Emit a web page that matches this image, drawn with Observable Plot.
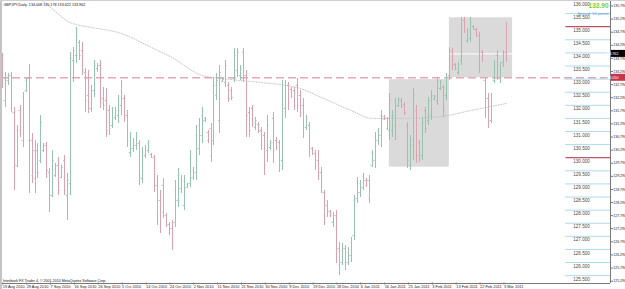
<!DOCTYPE html>
<html><head><meta charset="utf-8">
<script src="https://cdn.jsdelivr.net/npm/d3@7"></script>
<script src="https://cdn.jsdelivr.net/npm/@observablehq/plot@0.6"></script>
<style>
body{margin:0;background:#fff;}
#wrap{position:relative;width:625px;height:289px;overflow:hidden;background:#fff;}
#wrap svg{display:block;font-family:"Liberation Sans",Arial,sans-serif;}
#lb{position:absolute;left:0;top:0;width:2px;height:289px;background:#c4c4c4;}
#tb{position:absolute;left:0;top:0;width:625px;height:1px;background:#cfcfcf;}
</style></head><body><div id="wrap"></div>
<script>
const opens=[133.79,132.18,132.95,133.14,131.72,129.70,131.80,130.66,132.56,133.02,
130.66,130.27,130.27,129.89,130.27,130.47,129.43,128.56,129.32,129.70,
129.24,129.89,128.56,129.01,133.71,133.90,134.40,134.09,133.25,132.37,
131.88,132.56,133.40,133.52,132.26,132.18,131.80,131.23,131.53,131.61,
131.99,132.26,131.61,130.20,130.35,130.47,130.54,129.21,130.08,130.27,
130.12,130.01,128.94,128.37,128.94,127.79,127.45,127.30,127.53,128.37,
128.82,128.18,128.86,129.01,129.24,129.43,130.35,130.85,131.42,130.96,
131.11,130.66,132.37,131.42,132.91,132.87,132.76,132.56,133.02,133.33,
133.14,134.02,133.14,131.72,131.88,131.15,131.27,131.04,130.85,130.27,
130.39,131.50,130.66,130.58,129.89,131.88,132.76,132.60,132.56,132.76,
132.37,131.99,131.15,131.23,130.35,130.16,129.89,129.43,128.67,128.18,
127.94,127.53,127.79,126.53,126.00,126.53,126.00,126.27,127.03,128.44,
128.67,128.86,129.13,129.13,129.70,129.89,130.66,130.85,131.57,131.50,
131.04,131.04,131.23,131.99,132.18,132.03,131.23,129.70,130.47,131.80,
130.58,130.08,131.80,131.42,131.61,132.22,132.18,132.64,132.68,132.37,
133.14,134.02,133.56,133.25,133.71,135.24,134.47,134.55,135.01,134.89,
134.66,134.02,132.95,132.26,131.42,132.95,133.90,133.02,133.63,134.008];
const highs=[133.98,133.25,133.21,133.25,131.92,131.23,131.99,132.49,133.02,133.56,
130.92,130.66,130.54,131.61,130.54,130.58,129.59,130.27,129.78,130.01,
129.70,130.08,129.40,134.02,134.21,134.97,134.47,134.40,133.40,133.33,
132.76,133.71,133.60,133.71,132.68,132.64,131.99,131.92,131.92,132.37,
132.95,132.37,131.80,130.96,130.73,130.96,130.66,130.39,130.47,130.66,
130.16,130.08,129.32,128.75,129.21,127.87,127.53,127.60,129.13,129.59,
129.32,129.32,129.01,130.27,129.63,131.23,131.50,131.92,131.53,131.04,
131.31,133.06,133.21,133.52,133.02,133.71,132.87,132.68,134.17,134.17,
133.52,134.17,133.33,131.92,131.99,131.53,131.34,131.15,130.96,131.61,
130.66,131.72,130.77,130.66,132.95,132.95,132.87,132.68,132.68,133.02,
132.56,132.26,131.61,131.34,130.39,130.27,130.27,129.63,128.75,128.37,
127.98,127.91,127.98,126.76,126.72,126.65,126.57,126.95,128.56,129.24,
129.13,129.40,129.21,129.32,130.27,130.96,131.11,131.80,131.61,131.53,
132.45,131.80,132.26,132.30,132.26,132.11,131.34,130.85,132.64,131.99,
130.66,131.53,131.92,132.30,132.56,132.37,133.06,132.95,132.76,133.21,
134.21,134.17,133.60,133.63,135.35,135.35,134.93,135.35,135.05,134.93,
134.78,134.09,133.06,132.45,132.45,133.71,134.09,133.63,134.09,135.178];
const lows=[132.64,131.92,132.76,131.72,128.75,129.63,130.77,130.39,132.49,128.63,
129.01,128.63,129.21,129.78,130.20,129.21,127.91,128.48,129.24,128.56,
129.21,128.56,127.60,128.56,132.87,133.60,133.71,133.14,131.72,131.69,
131.72,132.30,133.25,131.88,131.80,130.77,130.85,131.11,131.42,131.31,
131.61,131.34,130.39,130.01,130.20,130.27,128.94,129.01,129.97,130.16,
129.97,128.67,127.41,127.11,127.68,127.34,127.03,126.46,127.34,128.10,
128.63,127.98,128.82,128.86,129.13,129.13,130.08,130.54,131.34,130.54,
129.82,130.47,132.18,130.92,132.87,132.68,132.11,132.18,132.87,133.06,
132.95,132.87,130.77,130.77,131.15,131.04,130.92,130.27,129.32,129.82,
130.27,129.78,130.27,129.43,129.51,131.50,131.80,132.26,131.80,131.72,
131.53,130.73,131.04,130.01,130.08,129.51,129.13,128.63,127.41,127.72,
127.72,127.34,125.96,125.50,125.88,125.69,125.88,126.00,126.84,128.25,
128.48,128.75,128.86,128.25,129.63,129.59,130.47,130.39,131.42,131.04,
130.66,130.77,130.66,131.92,131.88,131.61,129.59,129.51,129.89,129.78,
129.82,129.89,130.92,131.23,131.42,132.18,131.99,132.56,131.53,132.18,
132.95,133.33,133.33,133.14,133.52,134.74,134.36,134.40,134.85,134.59,
133.21,133.63,131.50,131.11,131.31,132.83,132.95,132.83,133.44,133.622];
const closes=[132.95,133.02,133.14,131.88,129.63,131.04,131.04,132.30,132.95,130.66,
129.32,129.21,129.43,131.34,130.47,129.51,128.56,129.89,129.70,128.75,
129.63,128.75,129.13,133.79,134.09,134.66,133.90,133.33,132.18,131.88,
132.56,133.52,133.52,132.18,131.99,131.04,131.11,131.72,131.80,132.18,
132.76,131.61,130.66,130.77,130.58,130.85,129.32,130.20,130.35,130.54,
130.01,128.94,127.79,127.41,127.91,127.41,127.14,126.65,128.75,129.32,
129.21,129.13,128.98,129.97,129.51,130.85,131.23,131.61,131.50,130.66,
130.08,132.76,132.95,133.25,132.98,133.52,132.26,132.30,133.90,134.02,
133.40,133.14,131.61,131.04,131.34,131.42,131.00,130.47,129.70,131.23,
130.58,130.27,130.39,129.70,132.18,132.76,132.11,132.34,131.99,131.99,
131.72,130.96,131.50,130.27,130.16,129.70,129.32,128.75,127.79,127.87,
127.79,127.79,126.46,125.88,126.46,126.00,126.38,126.76,128.37,129.13,
129.01,129.28,128.94,128.44,130.20,130.77,131.04,131.61,131.46,131.11,
132.18,131.61,131.99,132.22,131.95,131.72,129.89,130.66,132.37,130.08,
129.97,131.34,131.11,132.18,132.37,132.34,132.95,132.87,131.80,133.06,
134.09,133.52,133.40,133.56,135.05,134.85,134.85,135.16,134.89,134.66,
133.52,133.71,131.80,131.34,132.26,133.52,133.14,133.52,133.98,133.962];

// moving average (read at selected bars)
const maIdx=[12,15,19,22,25,30,40,50,57,67,77,87,100,107,117,124,134,147,157,169];
const maVal=[136.11,135.85,135.47,135.20,135.08,134.97,134.74,134.21,133.82,133.14,132.98,132.87,132.64,132.30,131.80,131.50,131.50,131.57,131.80,132.07];

const dateIdx=[0,8,16,24,32,40,48,56,64,72,80,88,96,104,112,120,128,136,144,152,160,168];
const dateLabels=["19 Aug 2010","29 Aug 2010","7 Sep 2010","16 Sep 2010","26 Sep 2010","5 Oct 2010","14 Oct 2010","24 Oct 2010","2 Nov 2010","11 Nov 2010","21 Nov 2010","30 Nov 2010","9 Dec 2010","19 Dec 2010","28 Dec 2010","6 Jan 2011","16 Jan 2011","25 Jan 2011","3 Feb 2011","13 Feb 2011","22 Feb 2011","3 Mar 2011"];
const priceTicks=[135.79,135.29,134.79,134.29,133.79,133.29,132.79,132.29,131.79,131.29,130.79,130.29,129.79,129.29,128.79,128.29,127.79,127.29,126.79,126.29,125.79,125.29];
const levels=[136.0,135.5,135.0,134.5,134.0,133.5,133.0,132.5,132.0,131.5,131.0,130.5,130.0,129.5,129.0,128.5,128.0,127.5,127.0,126.5,126.0,125.5];
const redLevels=[135.0,130.0];
const boxX1=[129.8,149.9], boxX2=[149.9,171.1], boxY1=[129.64,133.05], boxY2=[132.98,135.34];
const dashLevel=133.05;
const bidPrice=133.962;
const titleText="GBPJPY,Daily  134.008 135.178 133.622 133.962";
const copyText="Interbank FX Trader 4, \u00a9 2001-2010 MetaQuotes Software Corp.";
const bigPrice="133.90";
const spreadText="Spread: 50 points";

const UP="#97c4b1", DOWN="#dba2b0";
const X0=-0.57, X1=203.92, levelFrom=189;
const bars=opens.map((o,i)=>({i,open:o,high:highs[i],low:lows[i],close:closes[i],col:closes[i]>=o?UP:DOWN}));
const ma=maIdx.map((i,k)=>({i,v:maVal[k]}));
const boxes=boxX1.map((d,k)=>({x1:d,x2:boxX2[k],y1:boxY1[k],y2:boxY2[k]}));
const labelMap=new Map(dateIdx.map((d,k)=>[d,dateLabels[k]]));
const T=0.42;

const plot=Plot.plot({
  width:625,height:289,marginLeft:0,marginRight:15,marginTop:0,marginBottom:6,
  x:{domain:[X0,X1],axis:null},
  y:{domain:[125.2,136.0],axis:null},
  style:{background:"white",fontFamily:"'Liberation Sans',Arial,sans-serif",overflow:"visible"},
  marks:[
    Plot.rect(boxes,{x1:"x1",x2:"x2",y1:"y1",y2:"y2",fill:"#dadada"}),
    Plot.ruleY([bidPrice],{stroke:"white",strokeWidth:1}),
    Plot.line(ma,{x:"i",y:"v",stroke:"#c4c4c4",strokeDasharray:"1,1.6",strokeWidth:1,clip:true,curve:"monotone-x"}),
    Plot.ruleY([dashLevel],{stroke:"#e4a8b6",strokeWidth:1.6,strokeDasharray:"8,4"}),
    Plot.ruleY(levels.filter(d=>!redLevels.includes(d)),{y:d=>d,x1:levelFrom,x2:X1,stroke:"#5ab6d8",strokeDasharray:"1,1",strokeWidth:1}),
    Plot.ruleY(redLevels,{y:d=>d,x1:levelFrom,x2:X1,stroke:"#a8283c",strokeWidth:1}),
    Plot.text(levels,{y:d=>d,frameAnchor:"right",dx:-29,dy:3.6,text:d=>d.toFixed(3),fontSize:4.6,fill:"#4a4a4a",textAnchor:"middle"}),
    Plot.ruleX(bars,{x:"i",y1:"low",y2:"high",stroke:"col",strokeWidth:1,shapeRendering:"crispEdges"}),
    Plot.ruleY(bars,{x1:d=>d.i-T,x2:"i",y:"open",stroke:"col",strokeWidth:1}),
    Plot.ruleY(bars,{x1:"i",x2:d=>d.i+T,y:"close",stroke:"col",strokeWidth:1}),
    Plot.ruleY([125.2],{stroke:"#777",strokeWidth:1}),
    Plot.ruleX([X1],{stroke:"#777",strokeWidth:1}),
    Plot.axisX(dateIdx,{anchor:"bottom",tickSize:2,tickPadding:0,fontSize:3.9,textAnchor:"start",dx:0.6,dy:-0.5,tickFormat:d=>labelMap.get(d),stroke:"#777",fill:"#222"}),
    Plot.axisY(priceTicks,{anchor:"right",tickSize:2,tickPadding:0.8,fontSize:3.5,tickFormat:d=>d.toFixed(3),stroke:"#777",fill:"#222"}),
    Plot.text([titleText],{frameAnchor:"top-left",dx:3,dy:3,lineAnchor:"top",textAnchor:"start",fontSize:3.7,fill:"#111"}),
    Plot.text([copyText],{frameAnchor:"bottom-left",dx:2.5,dy:-2,lineAnchor:"bottom",textAnchor:"start",fontSize:3.6,fill:"#111"}),
    Plot.text([bigPrice],{frameAnchor:"top-right",dx:-2,dy:2.5,lineAnchor:"top",textAnchor:"end",fontSize:6.5,fontWeight:"bold",fill:"#7ccf1e"}),
    Plot.text([spreadText],{frameAnchor:"top-right",dx:-2,dy:11.5,lineAnchor:"top",textAnchor:"end",fontSize:4,fill:"#5b9bd5"})
  ]
});
const wrap=document.getElementById("wrap");
wrap.appendChild(plot);
const ys=plot.scale("y");
const svg=d3.select(plot);
[[bidPrice,"#000","#fff"],[dashLevel,"#c8354a","#fff"]].forEach(([v,bg,fg])=>{
  const y=ys.apply(v);
  svg.append("rect").attr("x",611).attr("y",y-3.5).attr("width",14).attr("height",7).attr("fill",bg);
  svg.append("text").attr("x",612).attr("y",y).attr("dy","0.35em").attr("font-size",3.5).attr("fill",fg).text(v.toFixed(3));
});
const lb=document.createElement("div");lb.id="lb";wrap.appendChild(lb);
const tb=document.createElement("div");tb.id="tb";wrap.appendChild(tb);
</script></body></html>
